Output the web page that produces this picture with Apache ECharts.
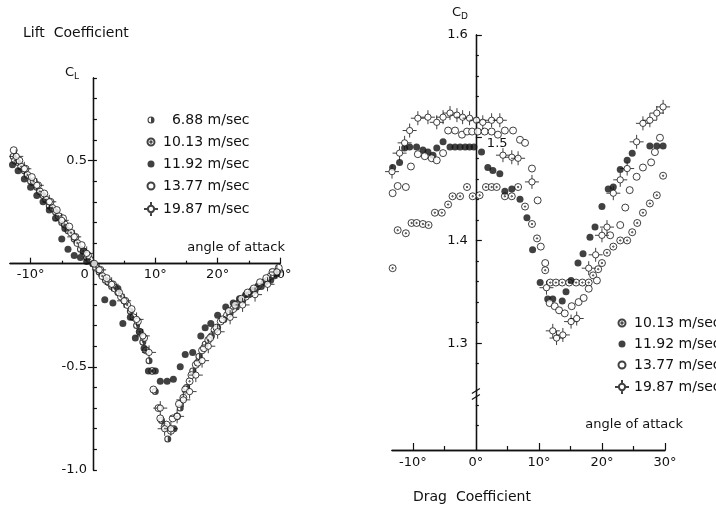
<!DOCTYPE html>
<html><head><meta charset="utf-8">
<script src="https://cdn.jsdelivr.net/npm/echarts@6/dist/echarts.min.js"></script>
<style>html,body{margin:0;padding:0;background:#fff}#c{width:716px;height:512px}</style>
</head><body><div id="c"></div>
<script>
// ---------- DATA ----------
const seriesNames = ['6.88 m/sec', '10.13 m/sec', '11.92 m/sec', '13.77 m/sec', '19.87 m/sec'];
const angleLabels = [-10, 0, 10, 20, 30];
const clLabels = [0.5, -0.5, -1.0];
const cdLabels = [1.3, 1.4, 1.6];

// Lift coefficient (left panel)
const lift688_a = [-12.8,-12,-11,-10,-9,-8,-7,-6,-5,-4,-3,-2,-1,0,1,2,3,4,5,6,7,8,9,10,11,12,13,14,15,16,17,18,19,20,21,22,23,24,25,26,27,28,29];
const lift688_c = [0.52,0.49,0.45,0.40,0.37,0.33,0.28,0.25,0.20,0.16,0.12,0.07,0.03,0.0,-0.04,-0.08,-0.11,-0.14,-0.18,-0.23,-0.30,-0.38,-0.47,-0.62,-0.76,-0.85,-0.80,-0.70,-0.60,-0.52,-0.45,-0.39,-0.35,-0.31,-0.27,-0.24,-0.21,-0.18,-0.15,-0.13,-0.11,-0.08,-0.06];
const lift1013_a = [-12.5,-11.5,-10.5,-9.5,-8.5,-7.5,-6.5,-5.5,-4.5,-3.5,-2.5,-1.5,-0.5,0.5,1.5,2.5,3.5,4.5,5.5,6.5,7.5,8.5,9.5,10.5,11.5,12.5,13.5,14.5,15.5,16.5,17.5,18.5,19.5,20.5,21.5,22.5,23.5,24.5,25.5,26.5,27.5,28.5,29.5];
const lift1013_c = [0.50,0.47,0.43,0.40,0.35,0.31,0.27,0.23,0.19,0.15,0.10,0.06,0.02,-0.02,-0.06,-0.09,-0.12,-0.16,-0.20,-0.26,-0.33,-0.42,-0.52,-0.70,-0.79,-0.81,-0.74,-0.65,-0.57,-0.49,-0.42,-0.37,-0.32,-0.28,-0.25,-0.22,-0.19,-0.16,-0.14,-0.11,-0.09,-0.06,-0.04];
const lift1192_a = [-12.9,-12,-11,-10,-9,-8,-7,-6,-5,-4.5,-4,-3,-2,-1.5,-1,0,1.9,3.2,4,4.8,6,6.8,7.5,8.2,8.9,10,10.8,11.9,12.9,14,14.8,16,17.3,18,18.9,20,21.3,22.5,23.5,24.5,25.5,26.5,27.5,28.5,29.5];
const lift1192_c = [0.48,0.45,0.41,0.37,0.33,0.30,0.26,0.22,0.12,0.17,0.07,0.04,0.03,0.06,0.01,0.0,-0.175,-0.19,-0.12,-0.29,-0.26,-0.36,-0.33,-0.41,-0.52,-0.52,-0.57,-0.57,-0.56,-0.50,-0.44,-0.43,-0.35,-0.31,-0.29,-0.25,-0.21,-0.19,-0.17,-0.15,-0.13,-0.11,-0.09,-0.08,-0.05];
const lift1377_a = [-12.7,-11.8,-10.8,-9.8,-8.8,-7.8,-6.8,-5.8,-4.8,-3.8,-2.8,-1.8,-0.8,0.2,1.2,2.2,3.2,4.2,5.2,6.2,7.2,8.2,9.7,10.8,11.8,12.8,13.8,14.8,15.8,16.8,17.8,18.8,19.8,20.8,21.8,22.8,23.8,24.8,25.8,26.8,27.8,28.8,29.8];
const lift1377_c = [0.55,0.50,0.46,0.42,0.38,0.34,0.30,0.26,0.22,0.18,0.13,0.09,0.04,0.0,-0.03,-0.07,-0.10,-0.14,-0.18,-0.22,-0.28,-0.36,-0.61,-0.75,-0.78,-0.75,-0.68,-0.61,-0.54,-0.48,-0.41,-0.36,-0.31,-0.27,-0.23,-0.20,-0.17,-0.14,-0.12,-0.09,-0.07,-0.04,-0.02];
const lift1987_a = [-12.3,-11,-9,-7,-5,-3,-1,1,3,5,7,8,9,10.8,11.5,12.5,13.5,14.5,15.5,16.5,17.5,18.5,20,22,24,26,28,29.5];
const lift1987_c = [0.52,0.46,0.38,0.30,0.21,0.13,0.05,-0.03,-0.10,-0.18,-0.27,-0.35,-0.43,-0.70,-0.80,-0.80,-0.74,-0.66,-0.62,-0.54,-0.47,-0.40,-0.33,-0.26,-0.20,-0.15,-0.10,-0.04];

// Drag coefficient (right panel)
const drag1013_a = [-13.2,-12.4,-11.1,-10.2,-9.4,-8.4,-7.5,-6.5,-5.4,-4.4,-3.7,-2.5,-1.4,-0.5,0.6,1.6,2.5,3.3,4.6,5.7,6.7,7.8,8.9,9.7,11.0,11.8,12.7,13.7,14.8,15.9,16.9,17.9,18.6,19.4,20.0,20.8,21.8,22.9,24.0,24.8,25.6,26.5,27.6,28.7,29.7];
const drag1013_c = [1.373,1.410,1.407,1.417,1.417,1.416,1.415,1.427,1.427,1.435,1.443,1.443,1.452,1.443,1.444,1.452,1.452,1.452,1.443,1.443,1.452,1.433,1.416,1.402,1.371,1.359,1.359,1.359,1.359,1.359,1.359,1.359,1.366,1.372,1.378,1.388,1.394,1.400,1.400,1.408,1.417,1.427,1.436,1.444,1.463];
const drag1192_a = [-13.2,-12.1,-11.3,-10.5,-9.4,-8.4,-7.6,-6.8,-6.2,-5.2,-4.1,-3.3,-2.5,-1.7,-1.0,-0.3,0.9,1.9,2.7,3.8,4.6,5.7,7.0,8.1,9.0,10.2,11.4,12.2,13.7,14.3,15.1,16.2,17.0,18.1,18.9,20.0,21.0,21.8,22.9,24.0,24.8,27.6,28.7,29.7];
const drag1192_c = [1.471,1.476,1.490,1.491,1.491,1.488,1.486,1.483,1.490,1.496,1.491,1.491,1.491,1.491,1.491,1.491,1.486,1.471,1.468,1.465,1.448,1.450,1.440,1.422,1.391,1.359,1.343,1.343,1.341,1.350,1.361,1.378,1.387,1.403,1.413,1.433,1.450,1.452,1.469,1.478,1.485,1.492,1.492,1.492];
const drag1377_a = [-13.2,-12.4,-11.1,-10.3,-9.2,-8.1,-7.0,-6.2,-5.2,-4.4,-3.3,-2.2,-1.4,-0.6,0.3,1.4,2.5,3.5,4.6,5.9,7.0,7.8,8.9,9.8,10.3,11.0,11.7,12.5,13.2,14.1,15.2,16.3,17.1,17.9,19.2,21.3,22.9,23.7,24.4,25.5,26.5,27.8,28.4,29.2];
const drag1377_c = [1.446,1.453,1.452,1.472,1.484,1.482,1.480,1.478,1.485,1.507,1.507,1.503,1.506,1.506,1.506,1.506,1.506,1.503,1.507,1.507,1.498,1.495,1.470,1.439,1.394,1.378,1.339,1.336,1.332,1.329,1.336,1.340,1.344,1.353,1.361,1.405,1.415,1.432,1.449,1.462,1.471,1.476,1.486,1.500];
const drag1987_a = [-13.3,-12.1,-11.3,-10.5,-9.2,-7.6,-6.2,-5.2,-4.1,-3.0,-2.1,-1.0,0.1,1.1,2.5,3.8,4.3,5.7,6.7,8.9,11.2,12.2,12.8,13.8,15.1,16,17.9,19,20,20.8,21.8,22.9,24,25.5,26.5,27.6,28.7,29.7];
const drag1987_c = [1.467,1.485,1.495,1.507,1.519,1.520,1.515,1.520,1.524,1.522,1.520,1.519,1.517,1.515,1.517,1.517,1.483,1.481,1.480,1.457,1.354,1.312,1.305,1.308,1.321,1.324,1.373,1.386,1.405,1.413,1.446,1.459,1.470,1.496,1.514,1.517,1.524,1.530];

// ---------- STYLES ----------
const FONT = 'DejaVu Sans';
const INK = '#111';
const zip = (a, b) => a.map((v, i) => [v, b[i]]);
const ring = r => `M${r},0A${r},${r} 0 1,1 -${r},0A${r},${r} 0 1,1 ${r},0Z`;
const ringCCW = r => `M${r},0A${r},${r} 0 1,0 -${r},0A${r},${r} 0 1,0 ${r},0Z`;
const half = r => `M0,-${r}A${r},${r} 0 0,1 0,${r}Z`;
const cross = 'M-1,0L-0.45,0M0.45,0L1,0M0,-1L0,-0.45M0,0.45L0,1';
const pad = 'M-1,-1L-1,-1M1,1L1,1';   // invisible corners: keeps legend icons at the marks' size
const SYM = {
  '6.88 m/sec': { symbol: 'path://' + ring(1) + ringCCW(0.7) + half(0.7), icon: 'path://' + pad + ring(0.5) + ringCCW(0.35) + half(0.35),
    size: 7, style: { color: INK } },
  '10.13 m/sec': { symbol: 'path://' + ring(1) + ring(0.2), icon: 'path://' + pad + ring(0.5) + ring(0.1),
    size: 7, style: { color: '#fff', borderColor: INK, borderWidth: 1 } },
  '11.92 m/sec': { symbol: 'circle', icon: 'path://' + pad + ring(0.5), size: 7, style: { color: INK } },
  '13.77 m/sec': { symbol: 'circle', icon: 'path://' + pad + ring(0.5), size: 7, style: { color: '#fff', borderColor: INK, borderWidth: 1 } },
  '19.87 m/sec': { symbol: 'path://' + cross + ring(0.45), icon: 'path://' + cross + ring(0.45),
    size: 14, style: { color: '#fff', borderColor: INK, borderWidth: 1 } }
};
function mk(name, xi, yi, a, c) {
  const s = SYM[name];
  return { type: 'scatter', name, xAxisIndex: xi, yAxisIndex: yi, data: zip(a, c),
    symbol: s.symbol, symbolSize: s.size, itemStyle: s.style, clip: false, silent: true };
}
const legendData = names => names.map(n => ({ name: n, icon: SYM[n].icon }));
const lbl = { fontFamily: FONT, fontSize: 13, color: INK };
const line = { lineStyle: { color: INK, width: 1.3 } };
const tick = (len, vals, inside) => ({ inside: inside !== false, length: len, customValues: vals, lineStyle: { color: INK, width: 1.2 } });

const chart = echarts.init(document.getElementById('c'), null, { renderer: 'canvas' });
chart.setOption({
  animation: false,
  backgroundColor: '#fff',
  grid: [
    { left: 10, top: 78, width: 270, height: 392, outerBoundsMode: 'none', containLabel: false },
    { left: 392, top: 35, width: 273, height: 415, outerBoundsMode: 'none', containLabel: false }
  ],
  xAxis: [
    { gridIndex: 0, type: 'value', min: -13.3, max: 30, position: 'bottom', offset: 0,
      axisLine: Object.assign({ onZero: false }, line), splitLine: { show: false },
      axisTick: tick(6, [-10, 10, 20, 30]),
      axisLabel: Object.assign({ margin: 4, customValues: angleLabels, formatter: v => v === 0 ? '0    ' : v + '°' }, lbl) },
    { gridIndex: 0, type: 'value', min: -13.3, max: 30, position: 'bottom', offset: 0,
      axisLine: Object.assign({ onZero: false }, line), splitLine: { show: false },
      axisTick: tick(3, [-5, 5, 15, 25]), axisLabel: { show: false } },
    { gridIndex: 1, type: 'value', min: -13.3, max: 30, position: 'bottom',
      axisLine: Object.assign({ onZero: false }, line), splitLine: { show: false },
      axisTick: tick(7, [-10, 10, 20, 30]),
      axisLabel: Object.assign({ margin: 6, customValues: angleLabels, formatter: v => v + '°' }, lbl) },
    { gridIndex: 1, type: 'value', min: -13.3, max: 30, position: 'bottom',
      axisLine: Object.assign({ onZero: false }, line), splitLine: { show: false },
      axisTick: tick(4, [-5, 5, 15, 25]), axisLabel: { show: false } }
  ],
  yAxis: [
    { gridIndex: 0, type: 'value', min: -1.0, max: 0.9, position: 'left', offset: 0,
      axisLine: Object.assign({ onZero: false }, line), splitLine: { show: false },
      axisTick: tick(5, [0.5, -0.5], false),
      axisLabel: Object.assign({ margin: 6, customValues: clLabels, formatter: v => v.toFixed(1) }, lbl) },
    { gridIndex: 0, type: 'value', min: -1.0, max: 0.9, position: 'left', offset: 0,
      axisLine: Object.assign({ onZero: false }, line), splitLine: { show: false },
      axisTick: tick(4, [-1.0,-0.9,-0.8,-0.7,-0.6,-0.5,-0.4,-0.3,-0.2,-0.1,0.1,0.2,0.3,0.4,0.5,0.6,0.7,0.8,0.9]),
      axisLabel: { show: false } },
    { gridIndex: 1, type: 'value', min: 1.196, max: 1.6, position: 'left', offset: 0,
      axisLine: Object.assign({ onZero: false }, line), splitLine: { show: false },
      axisTick: tick(6, [1.3, 1.4, 1.5, 1.6]),
      axisLabel: Object.assign({ margin: 8, customValues: cdLabels, formatter: v => v.toFixed(1) }, lbl) },
    { gridIndex: 1, type: 'value', min: 1.196, max: 1.6, position: 'left', offset: 0,
      axisLine: Object.assign({ onZero: false }, line), splitLine: { show: false },
      axisTick: tick(3, [1.22,1.24,1.28,1.32,1.34,1.36,1.38,1.42,1.44,1.46,1.48,1.52,1.54,1.56,1.58]),
      axisLabel: { show: false } }
  ],
  legend: [
    { data: legendData(seriesNames), orient: 'vertical', left: 138, top: 108, itemWidth: 14, itemHeight: 14, itemGap: 7,
      selectedMode: false, textStyle: Object.assign({ lineHeight: 14 }, lbl, { fontSize: 14 }),
      formatter: n => n === '6.88 m/sec' ? '  ' + n : n },
    { data: legendData(seriesNames.slice(1)), orient: 'vertical', left: 609, top: 310, itemWidth: 14, itemHeight: 14, itemGap: 6,
      selectedMode: false, textStyle: Object.assign({ lineHeight: 14 }, lbl, { fontSize: 14 }) }
  ],
  series: [
    mk(seriesNames[0], 0, 0, lift688_a, lift688_c),
    mk(seriesNames[1], 0, 0, lift1013_a, lift1013_c),
    mk(seriesNames[2], 0, 0, lift1192_a, lift1192_c),
    mk(seriesNames[3], 0, 0, lift1377_a, lift1377_c),
    mk(seriesNames[4], 0, 0, lift1987_a, lift1987_c),
    mk(seriesNames[1], 2, 2, drag1013_a, drag1013_c),
    mk(seriesNames[2], 2, 2, drag1192_a, drag1192_c),
    mk(seriesNames[3], 2, 2, drag1377_a, drag1377_c),
    mk(seriesNames[4], 2, 2, drag1987_a, drag1987_c)
  ]
});

// move the left panel's axes onto the zero lines, and the right y axis onto angle 0
const L = (p) => chart.convertToPixel({ xAxisIndex: 0, yAxisIndex: 0 }, p);
const R = (p) => chart.convertToPixel({ xAxisIndex: 2, yAxisIndex: 2 }, p);
const offYL = -(L([0, 0])[0] - L([-13.3, 0])[0]);
const offXL = -(L([0, -1.0])[1] - L([0, 0])[1]);
const offYR = -(R([0, 1.3])[0] - R([-13.3, 1.3])[0]);
chart.setOption({
  xAxis: [{ offset: offXL }, { offset: offXL }, {}, {}],
  yAxis: [{ offset: offYL }, { offset: offYL }, { offset: offYR }, { offset: offYR }]
});

// annotation texts and axis-break mark, positioned through the axes
const brk = R([0, 1.25]);
const p15 = R([0, 1.5]);
const txt = (x, y, text, extra) => ({ type: 'text', x, y, silent: true,
  style: Object.assign({ text, fontFamily: FONT, fontSize: 13, fill: INK }, extra || {}) });
const sub = (x, y, a, b) => ({ type: 'text', x, y, silent: true,
  style: { text: '{c|' + a + '}{s|' + b + '}', rich: { c: { fontFamily: FONT, fontSize: 13, fill: INK },
    s: { fontFamily: FONT, fontSize: 9, fill: INK, padding: [8, 0, 0, 0] } } } });
chart.setOption({
  graphic: [
    txt(23, 26, 'Lift  Coefficient', { fontSize: 14 }),
    txt(413, 490, 'Drag  Coefficient', { fontSize: 14 }),
    txt(285, 241, 'angle of attack', { align: 'right' }),
    txt(683, 418, 'angle of attack', { align: 'right' }),
    txt(p15[0] + 11, p15[1] + 6, '1.5', { verticalAlign: 'middle' }),
    sub(65, 64, 'C', 'L'),
    sub(452, 4, 'C', 'D'),
    { type: 'rect', silent: true, shape: { x: brk[0] - 3, y: brk[1] - 4, width: 6, height: 8 }, style: { fill: '#fff' } },
    { type: 'line', silent: true, shape: { x1: brk[0] - 4, y1: brk[1] - 1, x2: brk[0] + 4, y2: brk[1] - 6 }, style: { stroke: INK, lineWidth: 1.2 } },
    { type: 'line', silent: true, shape: { x1: brk[0] - 4, y1: brk[1] + 5, x2: brk[0] + 4, y2: brk[1] }, style: { stroke: INK, lineWidth: 1.2 } }
  ]
});
</script></body></html>
